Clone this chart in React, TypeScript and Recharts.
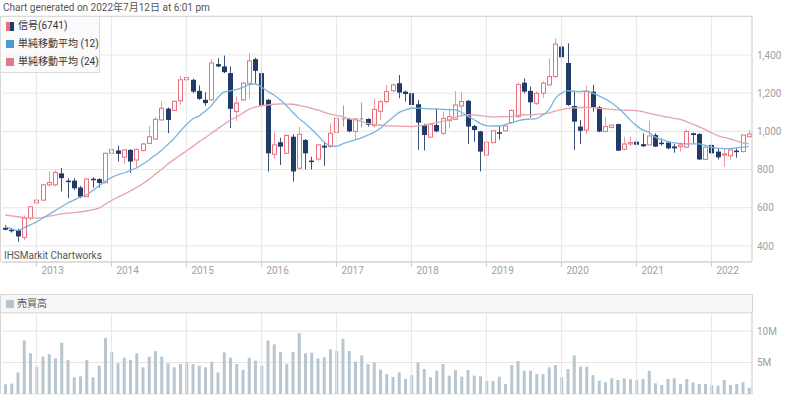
import React from 'react';
import { ComposedChart, Bar, Line, XAxis, YAxis, CartesianGrid, ReferenceLine } from 'recharts';

const START_YEAR = 2012;
const START_MONTH = 8;
const COUNT = 120;
const months: string[] = [];
for (let k = 0; k < COUNT; k++) {
  const m = START_MONTH - 1 + k;
  months.push(`${START_YEAR + Math.floor(m / 12)}-${String((m % 12) + 1).padStart(2, '0')}`);
}
const yearTicks = ['2013-01', '2014-01', '2015-01', '2016-01', '2017-01', '2018-01', '2019-01', '2020-01', '2021-01', '2022-01'];
const priceTicks = [400, 600, 800, 1000, 1200, 1400];
const volTicks = [5000000, 10000000];

const openP = [495, 485, 482, 445, 545, 625, 640, 720, 720, 780, 742, 742, 706, 658, 752, 750, 731, 885, 900, 865, 903, 850, 900, 937, 960, 1060, 1119, 1110, 1160, 1270, 1270, 1212, 1165, 1165, 1352, 1340, 1305, 1104, 1165, 1252, 1378, 1305, 1165, 880, 943, 885, 972, 807, 955, 847, 855, 925, 920, 995, 1065, 1065, 1000, 1065, 1065, 1030, 1105, 1156, 1213, 1252, 1208, 1200, 1142, 1033, 970, 1033, 990, 1056, 1063, 1133, 1160, 1028, 1000, 876, 941, 995, 1003, 1046, 1077, 1255, 1212, 1147, 1200, 1243, 1287, 1444, 1358, 1133, 1025, 1007, 1208, 1126, 999, 1021, 1038, 906, 934, 946, 933, 929, 981, 941, 941, 921, 920, 917, 990, 986, 853, 929, 894, 876, 872, 899, 894, 972];
const highP = [510, 495, 490, 560, 608, 678, 725, 790, 795, 808, 755, 755, 715, 757, 760, 755, 890, 980, 925, 907, 907, 910, 940, 1028, 1075, 1156, 1125, 1162, 1290, 1290, 1275, 1240, 1205, 1380, 1383, 1397, 1340, 1183, 1260, 1410, 1385, 1340, 1170, 995, 967, 985, 985, 1025, 960, 867, 935, 943, 1042, 1075, 1135, 1070, 1070, 1150, 1068, 1173, 1165, 1243, 1251, 1295, 1213, 1205, 1164, 1040, 1042, 1120, 1104, 1121, 1211, 1208, 1165, 1033, 1003, 952, 1005, 1028, 1035, 1116, 1255, 1277, 1234, 1210, 1262, 1383, 1487, 1478, 1461, 1213, 1059, 1238, 1243, 1133, 1074, 1035, 1040, 972, 972, 963, 990, 1056, 990, 963, 946, 934, 941, 1012, 993, 990, 930, 934, 911, 911, 911, 911, 983, 1007];
const lowP = [482, 470, 422, 430, 535, 608, 635, 710, 712, 685, 650, 692, 650, 655, 705, 705, 728, 880, 842, 830, 782, 808, 895, 935, 955, 1055, 990, 1105, 1140, 1190, 1200, 1165, 1134, 1160, 1335, 1305, 1017, 1054, 1160, 1170, 1250, 1130, 790, 855, 824, 880, 737, 800, 800, 800, 845, 820, 915, 990, 1025, 995, 955, 1020, 1025, 1020, 1060, 1147, 1204, 1173, 1156, 1133, 903, 900, 964, 995, 981, 1015, 1060, 1077, 934, 946, 790, 867, 938, 958, 1000, 1042, 1071, 1199, 1073, 1138, 1175, 1240, 1280, 1360, 1133, 903, 934, 986, 1104, 995, 995, 1015, 897, 900, 924, 925, 918, 925, 918, 925, 906, 888, 895, 912, 937, 850, 850, 881, 853, 815, 850, 862, 890, 970];
const closeP = [485, 478, 450, 545, 605, 640, 720, 732, 785, 755, 738, 702, 658, 750, 745, 730, 885, 905, 882, 903, 842, 906, 934, 972, 1063, 1121, 1060, 1157, 1270, 1282, 1208, 1170, 1148, 1358, 1340, 1310, 1118, 1148, 1252, 1369, 1317, 1135, 885, 929, 920, 978, 790, 985, 885, 843, 929, 915, 990, 1068, 1065, 1000, 1065, 1065, 1035, 1115, 1155, 1208, 1243, 1203, 1196, 1138, 1046, 981, 1037, 1000, 1068, 1077, 1138, 1156, 1025, 1007, 894, 943, 1003, 990, 1028, 1109, 1246, 1208, 1152, 1199, 1253, 1287, 1457, 1388, 1138, 1051, 1003, 1208, 1126, 999, 1025, 1033, 899, 934, 941, 930, 922, 976, 920, 934, 911, 911, 929, 999, 981, 853, 917, 885, 864, 882, 903, 894, 981, 986];
const sma12 = [501, 490, 482, 495, 510, 525, 545, 565, 585, 605, 625, 640, 655, 667, 690, 715, 738, 758, 772, 782, 795, 808, 828, 850, 875, 900, 930, 962, 1000, 1035, 1065, 1080, 1105, 1135, 1175, 1205, 1212, 1218, 1230, 1245, 1248, 1232, 1210, 1190, 1165, 1135, 1100, 1068, 1042, 1012, 980, 945, 925, 922, 935, 945, 955, 966, 980, 995, 1015, 1045, 1072, 1098, 1112, 1121, 1122, 1120, 1118, 1117, 1115, 1114, 1112, 1100, 1080, 1062, 1042, 1030, 1028, 1028, 1035, 1045, 1055, 1062, 1064, 1067, 1085, 1112, 1170, 1200, 1213, 1210, 1208, 1212, 1200, 1186, 1170, 1150, 1125, 1095, 1060, 1030, 1008, 995, 970, 958, 947, 940, 937, 935, 934, 934, 927, 918, 912, 910, 910, 914, 917, 920];
const sma24 = [562, 558, 553, 549, 546, 546, 550, 556, 562, 568, 572, 575, 579, 583, 590, 598, 618, 638, 655, 670, 688, 706, 726, 748, 775, 800, 828, 852, 875, 897, 920, 945, 966, 990, 1013, 1036, 1058, 1075, 1095, 1115, 1127, 1134, 1138, 1142, 1144, 1143, 1142, 1136, 1129, 1121, 1112, 1101, 1090, 1084, 1077, 1066, 1060, 1052, 1042, 1036, 1032, 1029, 1028, 1027, 1026, 1025, 1027, 1032, 1038, 1045, 1052, 1060, 1073, 1082, 1087, 1086, 1082, 1078, 1075, 1076, 1077, 1077, 1085, 1087, 1086, 1089, 1092, 1096, 1106, 1113, 1120, 1123, 1125, 1126, 1124, 1121, 1118, 1115, 1112, 1111, 1110, 1109, 1103, 1095, 1088, 1081, 1074, 1068, 1063, 1051, 1038, 1025, 1010, 993, 978, 968, 960, 950, 940, 934];
const volumeM = [1.54, 1.64, 3.44, 8.5, 6.46, 4.34, 5.93, 6.3, 5.66, 8.15, 5.4, 2.65, 2.8, 5.4, 2.65, 4.5, 8.9, 6.7, 4.87, 5.77, 5.4, 6.46, 4.23, 5.93, 6.8, 5.93, 4.87, 4.23, 4.76, 5.03, 4.76, 4.5, 4.23, 5.13, 3.44, 6.6, 5.77, 4.76, 3.86, 5.77, 5.29, 4.5, 8.5, 7.88, 6.7, 4.76, 6.7, 9.68, 6.46, 6.56, 5.66, 5.82, 7.09, 6.82, 8.78, 6.82, 5.13, 6.14, 4.76, 5.03, 3.86, 3.17, 2.7, 3.44, 2.38, 3.0, 5.03, 3.97, 2.65, 3.7, 4.76, 2.91, 3.81, 2.75, 3.81, 2.91, 2.8, 2.06, 2.06, 2.75, 1.59, 4.6, 5.24, 3.7, 3.7, 3.17, 3.17, 4.23, 4.6, 2.65, 3.97, 6.14, 4.34, 4.34, 3.0, 2.12, 1.85, 2.49, 2.22, 2.49, 2.33, 2.22, 2.38, 3.7, 1.69, 1.43, 2.38, 2.49, 1.59, 2.38, 1.85, 1.59, 1.59, 1.43, 1.32, 2.22, 1.43, 1.59, 1.85, 1.0];

const data = months.map((m, i) => ({
  m,
  o: openP[i],
  h: highP[i],
  l: lowP[i],
  c: closeP[i],
  range: [lowP[i], highP[i]],
  s12: sma12[i],
  s24: sma24[i],
  vol: volumeM[i] * 1000000,
}));

const FONT = 'Roboto, "Noto Sans CJK JP", sans-serif';
const UP = '#e8707c';
const UP_WICK = '#eb9aa2';
const DOWN = '#223a66';
const DOWN_WICK = '#3d5278';
const FLAT = '#9a9a9a';
const GRID = '#e6e6e6';
const AXIS = '#c8c8c8';
const TICK_TEXT = '#a0a0a0';

const Candle = (props: any) => {
  const { x, y, width, height, payload } = props;
  if (payload == null) return null;
  const { o, h, l, c } = payload;
  const top0 = Math.min(y, y + height);
  const hgt = Math.abs(height);
  const cx = Math.round(x + width / 2) + 0.5;
  const span = h - l;
  const py = (v: number) => top0 + (span === 0 ? 0 : ((h - v) / span) * hgt);
  const bw = 4;
  if (o === c) {
    return (
      <g>
        <line x1={cx} x2={cx} y1={top0} y2={top0 + hgt} stroke={FLAT} strokeWidth={1} />
        <line x1={cx - 2} x2={cx + 2} y1={py(o)} y2={py(o)} stroke={FLAT} strokeWidth={1} />
      </g>
    );
  }
  const up = c > o;
  const bt = py(Math.max(o, c));
  const bb = py(Math.min(o, c));
  if (up) {
    return (
      <g>
        <line x1={cx} x2={cx} y1={top0} y2={bt} stroke={UP_WICK} strokeWidth={1} />
        <line x1={cx} x2={cx} y1={bb} y2={top0 + hgt} stroke={UP_WICK} strokeWidth={1} />
        <rect x={cx - bw / 2} y={bt} width={bw} height={Math.max(bb - bt, 1)} fill="#ffffff" stroke={UP} strokeWidth={1} />
      </g>
    );
  }
  return (
    <g>
      <line x1={cx} x2={cx} y1={top0} y2={top0 + hgt} stroke={DOWN_WICK} strokeWidth={1} />
      <rect x={cx - bw / 2 - 0.5} y={bt} width={bw + 1} height={Math.max(bb - bt, 1.5)} fill={DOWN} />
    </g>
  );
};

const YearTick = (props: any) => {
  const { x, y, payload } = props;
  return (
    <text x={x + 5} y={y} dy="0.71em" textAnchor="start" fill={TICK_TEXT} fontSize={10} fontFamily={FONT}>
      {String(payload.value).slice(0, 4)}
    </text>
  );
};

const fmtPrice = (v: number) => v.toLocaleString('en-US');
const fmtVol = (v: number) => `${Math.round(v / 1000000)}M`;

export default function App() {
  const W = 800;
  return (
    <div style={{ position: 'absolute', left: 0, top: 0, width: W, height: 396, background: '#fff', fontFamily: FONT, overflow: 'hidden' }}>
      <div style={{ position: 'absolute', left: 3, top: 1, fontSize: 10, color: '#555', lineHeight: '13px', whiteSpace: 'nowrap' }}>
        Chart generated on 2022年7月12日 at 6:01 pm
      </div>

      <div style={{ position: 'absolute', left: 0, top: 0 }}>
        <ComposedChart width={W} height={285} data={data} margin={{ top: 16, right: 0, bottom: 0, left: 2 }}>
          <CartesianGrid horizontal={true} vertical={false} stroke={GRID} />
          {yearTicks.map((t) => (
            <ReferenceLine key={t} x={t} stroke={GRID} strokeWidth={1} />
          ))}
          <XAxis
            dataKey="m"
            ticks={yearTicks}
            interval={0}
            tick={<YearTick />}
            tickSize={5}
            tickMargin={0}
            tickLine={{ stroke: AXIS }}
            axisLine={{ stroke: AXIS }}
            height={23}
          />
          <YAxis
            orientation="right"
            domain={[316, 1604]}
            ticks={priceTicks}
            tickFormatter={fmtPrice}
            width={48}
            tickLine={false}
            tickSize={3}
            tickMargin={2}
            axisLine={{ stroke: AXIS }}
            tick={{ fill: TICK_TEXT, fontSize: 10, fontFamily: FONT, textAnchor: 'start' }}
            allowDataOverflow={true}
          />
          <Line dataKey="s24" type="monotone" stroke="#e8a2ab" strokeWidth={1.3} dot={false} isAnimationActive={false} />
          <Line dataKey="s12" type="monotone" stroke="#78b6df" strokeWidth={1.3} dot={false} isAnimationActive={false} />
          <Bar dataKey="range" shape={<Candle />} isAnimationActive={false} />
        </ComposedChart>
      </div>

      <div style={{ position: 'absolute', left: 0, top: 16, width: 752, height: 245, borderTop: '1px solid #d8d8d8', borderLeft: '1px solid #d8d8d8', pointerEvents: 'none' }} />

      <div style={{ position: 'absolute', left: 0, top: 16, width: 100, height: 57, border: '1px solid #dcdcdc', background: 'rgba(250,250,250,0.72)', fontSize: 10, color: '#333', lineHeight: '18px', boxSizing: 'border-box' }}>
        <div style={{ position: 'absolute', left: 5, top: 5, width: 4, height: 9, background: '#e8707c' }} />
        <div style={{ position: 'absolute', left: 9, top: 5, width: 4, height: 9, background: DOWN }} />
        <div style={{ position: 'absolute', left: 17, top: 0, whiteSpace: 'nowrap' }}>信号(6741)</div>
        <div style={{ position: 'absolute', left: 5, top: 23, width: 8, height: 8, background: '#4d9ad0' }} />
        <div style={{ position: 'absolute', left: 17, top: 18, whiteSpace: 'nowrap' }}>単純移動平均 (12)</div>
        <div style={{ position: 'absolute', left: 5, top: 41, width: 8, height: 8, background: '#e07a8a' }} />
        <div style={{ position: 'absolute', left: 17, top: 36, whiteSpace: 'nowrap' }}>単純移動平均 (24)</div>
      </div>

      <div style={{ position: 'absolute', left: 4, top: 249, fontSize: 10, color: '#555', lineHeight: '13px', whiteSpace: 'nowrap' }}>
        IHSMarkit Chartworks
      </div>

      <div style={{ position: 'absolute', left: 0, top: 294, width: 753, height: 19, background: '#f6f6f6', border: '1px solid #d8d8d8', boxSizing: 'border-box' }}>
        <div style={{ position: 'absolute', left: 5, top: 5, width: 8, height: 8, background: '#b4c3cd' }} />
        <div style={{ position: 'absolute', left: 16, top: 1, fontSize: 10, color: '#555', lineHeight: '15px', whiteSpace: 'nowrap' }}>売買高</div>
      </div>

      <div style={{ position: 'absolute', left: 0, top: 285 }}>
        <ComposedChart width={W} height={111} data={data} margin={{ top: 28, right: 0, bottom: 2, left: 2 }} barCategoryGap={1}>
          <CartesianGrid horizontal={true} vertical={false} stroke={GRID} />
          {yearTicks.map((t) => (
            <ReferenceLine key={t} x={t} stroke={GRID} strokeWidth={1} />
          ))}
          <XAxis dataKey="m" hide={false} tick={false} tickLine={false} axisLine={{ stroke: AXIS }} height={0} />
          <YAxis
            orientation="right"
            domain={[0, 12860000]}
            ticks={volTicks}
            tickFormatter={fmtVol}
            width={48}
            tickLine={false}
            tickSize={3}
            tickMargin={2}
            axisLine={{ stroke: AXIS }}
            tick={{ fill: TICK_TEXT, fontSize: 10, fontFamily: FONT, textAnchor: 'start' }}
            allowDataOverflow={true}
          />
          <Bar dataKey="vol" fill="#b8c6d0" barSize={3} isAnimationActive={false} />
        </ComposedChart>
      </div>
      <div style={{ position: 'absolute', left: 0, top: 313, width: 1, height: 81, background: '#d8d8d8' }} />
    </div>
  );
}
